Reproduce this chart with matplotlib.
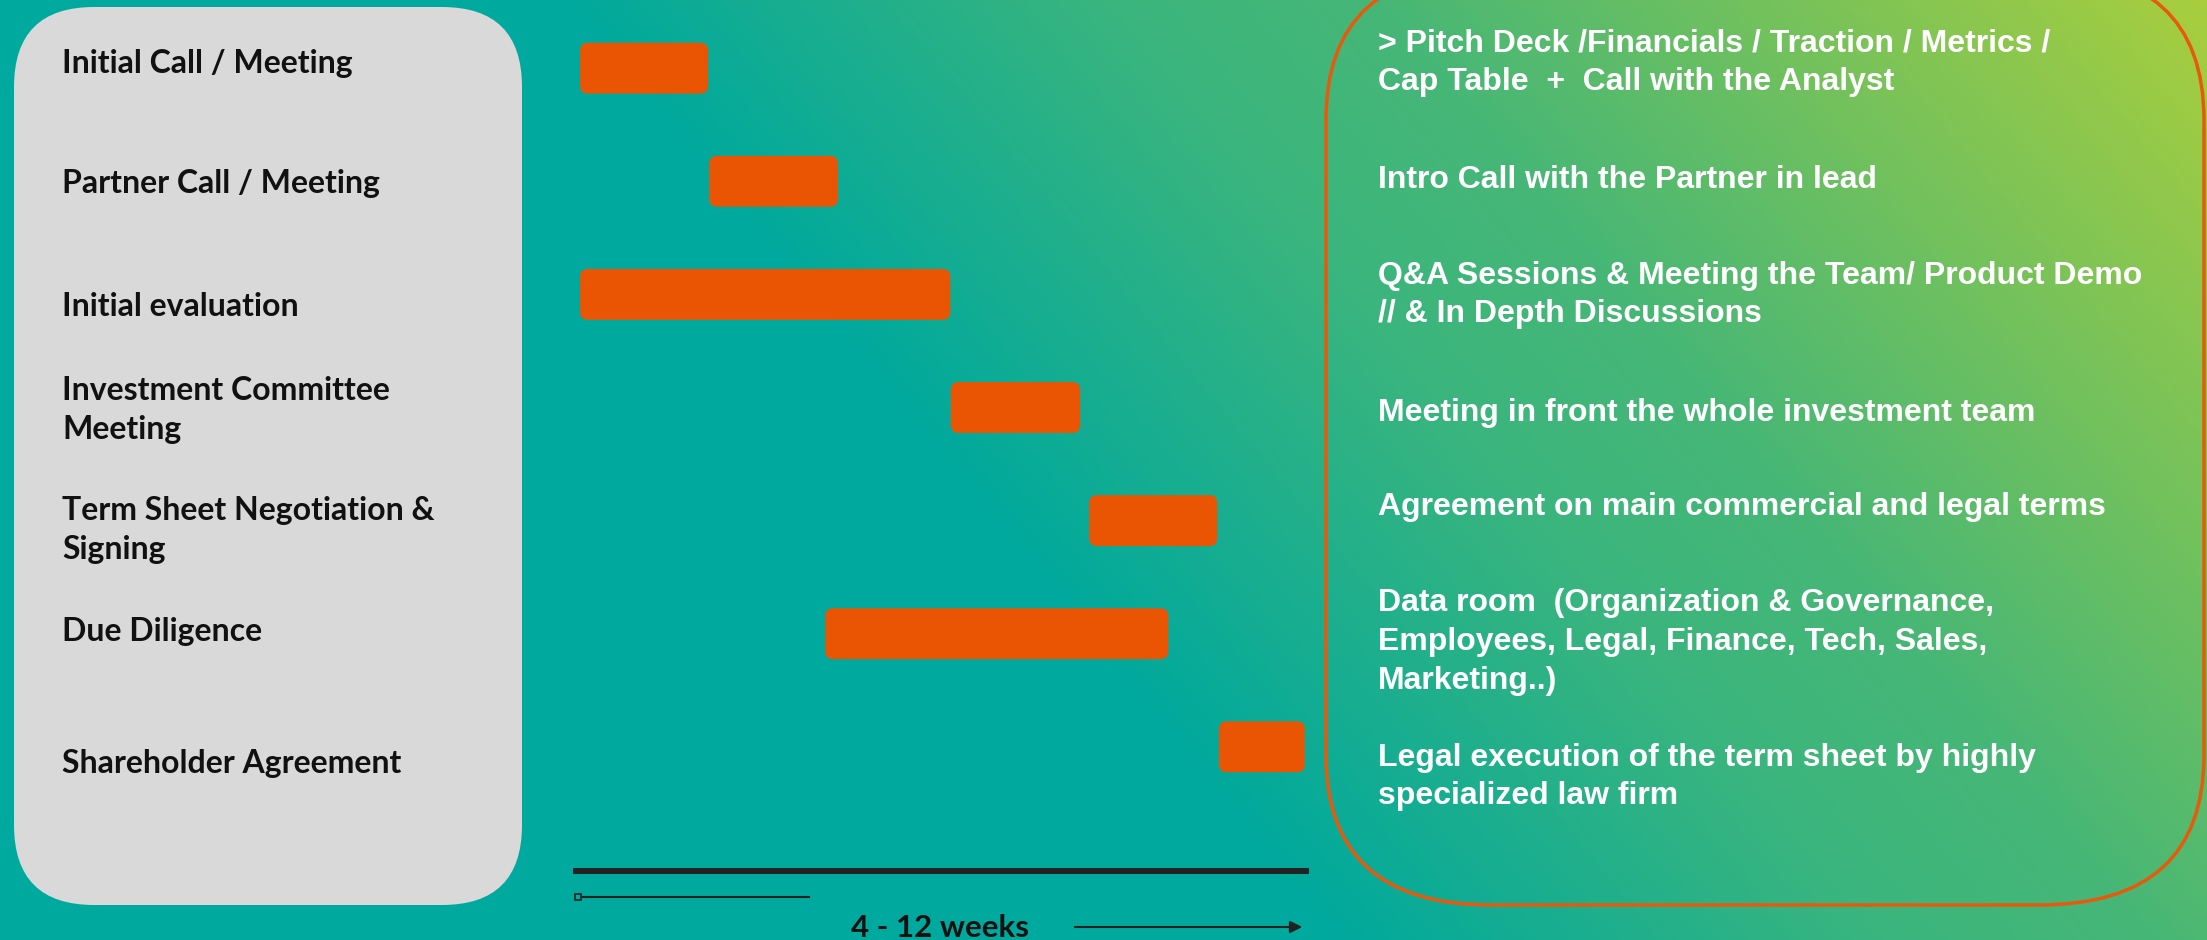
import numpy as np
import matplotlib
matplotlib.use('Agg')
import matplotlib.pyplot as plt
from matplotlib.patches import FancyBboxPatch
from matplotlib.colors import LinearSegmentedColormap

# data
tasks = [
    'Initial Call / Meeting',
    'Partner Call / Meeting',
    'Initial evaluation',
    'Investment Committee\nMeeting',
    'Term Sheet Negotiation &\nSigning',
    'Due Diligence',
    'Shareholder Agreement',
]
start = [0.0, 2.14, 0.0, 6.14, 8.43, 4.06, 10.58]
duration = [2.12, 2.13, 6.13, 2.14, 2.12, 5.68, 1.42]
details = [
    '> Pitch Deck /Financials / Traction / Metrics /\nCap Table  +  Call with the Analyst',
    'Intro Call with the Partner in lead',
    'Q&A Sessions & Meeting the Team/ Product Demo\n// & In Depth Discussions',
    'Meeting in front the whole investment team',
    'Agreement on main commercial and legal terms',
    'Data room  (Organization & Governance,\nEmployees, Legal, Finance, Tech, Sales,\nMarketing..)',
    'Legal execution of the term sheet by highly\nspecialized law firm',
]
timeline_label = '4 - 12 weeks'

# layout (pixels)
W, H = 2207, 940
label_y = [63, 183, 306, 410, 530, 632, 764]
detail_y = [63, 180, 295, 413, 507, 642, 777]
row0, row_h = 68.2, 113.1      # pixel centre of first row, row spacing
px_unit = 60.4                 # pixels per x unit

BAR = '#EA5504'
EDGE = '#E8590C'
DARK = '#222222'

fig = plt.figure(figsize=(W / 100, H / 100), dpi=100)

# background with gradient
bg = fig.add_axes([0, 0, 1, 1])
bg.set_xlim(0, W)
bg.set_ylim(H, 0)
bg.axis('off')

cmap = LinearSegmentedColormap.from_list(
    'bg', [(0, '#00A99D'), (0.33, '#3AB57E'), (0.5, '#47B776'), (1, '#A8CE3E')])
gx, gy = np.meshgrid(np.linspace(0, W, 552), np.linspace(0, H, 235))
t = ((gx - 563) * 940 - gy * 774) / 1218 / 1269
bg.imshow(np.clip(t, 0, 1), cmap=cmap, vmin=0, vmax=1,
          extent=[0, W, H, 0], aspect='auto', zorder=0)

# left grey box
bg.add_patch(FancyBboxPatch((14, 7), 508, 898,
                            boxstyle='round,pad=0,rounding_size=80',
                            fc='#D9D9D9', ec='none', zorder=1))
for lab, y in zip(tasks, label_y):
    bg.text(62, y, lab, ha='left', va='center', fontsize=23,
            fontfamily='Lato', fontweight='bold', color='#111111',
            linespacing=1.43, zorder=2)

# right box
bg.add_patch(FancyBboxPatch((1326, -30), 878, 935,
                            boxstyle='round,pad=0,rounding_size=165',
                            mutation_aspect=150 / 165,
                            fc='none', ec=EDGE, lw=2.5, zorder=1))
for txt, y in zip(details, detail_y):
    bg.text(1378, y, txt, ha='left', va='center', fontsize=23,
            fontfamily='Liberation Sans', fontweight='bold', color='white',
            linespacing=1.37, zorder=2)

# gantt axes
ax = fig.add_axes([576 / W, (H - 871) / H, 730 / W, 871 / H])
ax.set_xlim(-4 / px_unit, 726 / px_unit)
ax.set_ylim((871 - row0) / row_h, -row0 / row_h)
ax.patch.set_alpha(0)
for s in ['top', 'left', 'right']:
    ax.spines[s].set_visible(False)
ax.spines['bottom'].set_linewidth(4.3)
ax.spines['bottom'].set_color(DARK)
ax.set_xticks([])
ax.set_yticks([])

bh = 0.45
for i, (s, d) in enumerate(zip(start, duration)):
    ax.add_patch(FancyBboxPatch((s, i - bh / 2), d, bh,
                                boxstyle='round,pad=0,rounding_size=0.13',
                                mutation_aspect=px_unit / row_h,
                                fc=BAR, ec='none'))

# timeline below
bg.plot([576, 809], [897, 897], color=DARK, lw=1.5, zorder=2)
bg.plot([578], [897], marker='s', ms=5, mfc='#00A99D', mec=DARK, mew=1.2, zorder=3)
bg.text(940, 937, timeline_label, ha='center', va='baseline', fontsize=22.5,
        fontfamily='Lato', fontweight='bold', color='#111111', zorder=2)
bg.annotate('', xy=(1305, 927), xytext=(1072, 927),
            arrowprops=dict(arrowstyle='-|>', color=DARK, lw=1.5,
                            mutation_scale=18), zorder=2)

fig.savefig('out.png', dpi=100)
